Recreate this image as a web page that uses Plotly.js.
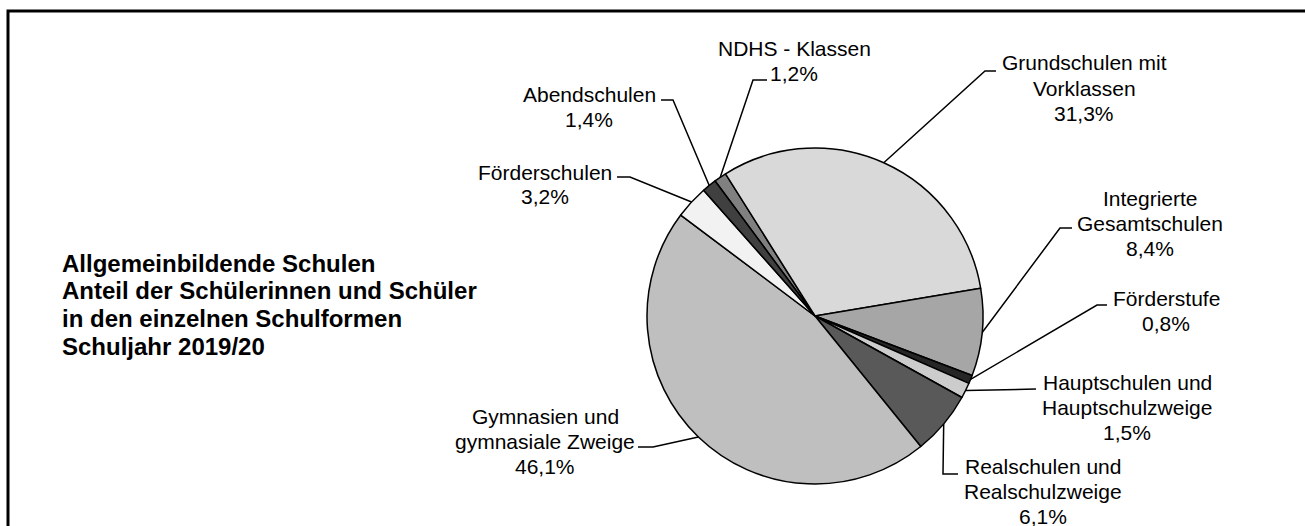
<!DOCTYPE html>
<html>
<head>
<meta charset="utf-8">
<script src="https://cdn.plot.ly/plotly-3.0.1.min.js"></script>
<style>
  body { margin: 0; background: #fff; }
  #plot { width: 1305px; height: 526px; }
</style>
</head>
<body>
<div id="plot"></div>
<script>
// Schülerinnen und Schüler nach Schulform, Schuljahr 2019/20 (Anteil in %)
// Reihenfolge im Uhrzeigersinn, beginnend oben mit den NDHS-Klassen
const schulformen = [
    ["NDHS - Klassen"],
    ["Grundschulen mit", "Vorklassen"],
    ["Integrierte", "Gesamtschulen"],
    ["Förderstufe"],
    ["Hauptschulen und", "Hauptschulzweige"],
    ["Realschulen und", "Realschulzweige"],
    ["Gymnasien und", "gymnasiale Zweige"],
    ["Förderschulen"],
    ["Abendschulen"]
];
const anteile = [1.2, 31.3, 8.4, 0.8, 1.5, 6.1, 46.1, 3.2, 1.4];
const grautoene = ["#808080", "#d9d9d9", "#a6a6a6", "#262626", "#cccccc",
                   "#595959", "#bfbfbf", "#f2f2f2", "#404040"];
const titelZeilen = ["Allgemeinbildende Schulen", "Anteil der Schülerinnen und Schüler",
                     "in den einzelnen Schulformen", "Schuljahr 2019/20"];

// Beschriftungen: Mitte der ersten Zeile und Knick der Führungslinie (Pixel)
const textPos = [[794, 49], [1084, 63], [1150, 198], [1166, 298], [1127, 382],
                 [1043, 466], [545, 416], [545, 172], [589, 95]];
const knick = [[[753, 80], [767, 80]], [[985, 71], [996, 71]],
               [[1060, 228], [1072, 228]], [[1097, 305], [1107, 305]],
               [[1036, 389], [1036, 389]], [[943, 474], [958, 474]],
               [[653, 447], [638, 447]], [[630, 177], [617, 177]],
               [[673, 100], [661, 100]]];

const W = 1305, H = 526;
const mitte = [815, 316], radius = 168;
const drehung = -36.5;
const zeilenAbstand = 25;
const schrift = "Liberation Sans, Arial, sans-serif";

const px = x => x / W;
const py = y => 1 - y / H;
const prozent = v => v.toFixed(1).replace(".", ",") + "%";

let trace = {
    type: "pie",
    values: anteile,
    labels: schulformen.map(z => z.join(" ")),
    sort: false,
    direction: "clockwise",
    rotation: drehung,
    textinfo: "none",
    hoverinfo: "label+percent",
    marker: { colors: grautoene, line: { color: "#000", width: 1.5 } },
    domain: {
        x: [px(mitte[0] - radius), px(mitte[0] + radius)],
        y: [py(mitte[1] + radius), py(mitte[1] - radius)]
    }
};

function zeile(text, x, y, opts) {
    return Object.assign({
        xref: "paper", yref: "paper",
        x: px(x), y: py(y),
        xanchor: "center", yanchor: "middle", align: "center",
        showarrow: false,
        text: text,
        font: { family: schrift, size: 21, color: "#000" }
    }, opts || {});
}

// Führungslinien vom Mittelpunkt des Segmentbogens aus
let summe = anteile.reduce((a, b) => a + b, 0);
let winkel = drehung;
let shapes = [];
let annotations = [];
anteile.forEach((v, i) => {
    let mittelWinkel = (winkel + v / summe * 180) * Math.PI / 180;
    winkel += v / summe * 360;
    let x0 = mitte[0] + radius * Math.sin(mittelWinkel);
    let y0 = mitte[1] - radius * Math.cos(mittelWinkel);
    let [k1, k2] = knick[i];
    shapes.push({
        type: "path", xref: "paper", yref: "paper",
        path: `M ${px(x0)} ${py(y0)} L ${px(k1[0])} ${py(k1[1])} L ${px(k2[0])} ${py(k2[1])}`,
        line: { color: "#000", width: 1.5 }
    });
    let zeilen = schulformen[i].concat([prozent(v)]);
    zeilen.forEach((t, j) => {
        annotations.push(zeile(t, textPos[i][0], textPos[i][1] + j * zeilenAbstand));
    });
});

// Rahmen (nur oben und links sichtbar)
shapes.push({
    type: "rect", xref: "paper", yref: "paper",
    x0: px(8), x1: 1.05, y0: -0.05, y1: py(11),
    line: { color: "#000", width: 3 }
});

// Titel links, fett
titelZeilen.forEach((t, j) => {
    annotations.push(zeile(t, 60, 263 + j * 27.7, {
        xanchor: "left", align: "left",
        font: { family: schrift, size: 24, color: "#000", weight: "bold" }
    }));
});

let layout = {
    width: W,
    height: H,
    margin: { l: 0, r: 0, t: 0, b: 0 },
    showlegend: false,
    paper_bgcolor: "#fff",
    shapes: shapes,
    annotations: annotations
};

Plotly.newPlot("plot", [trace], layout, { displayModeBar: false, staticPlot: true });
</script>
</body>
</html>
